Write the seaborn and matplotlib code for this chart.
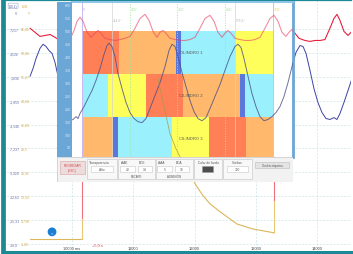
import matplotlib
matplotlib.use("Agg")
import matplotlib.pyplot as plt
from matplotlib.patches import Rectangle
from matplotlib.transforms import blended_transform_factory
import seaborn as sns

sns.set_style("white")
plt.rcParams['font.family'] = ['Liberation Sans', 'DejaVu Sans']

# ---- main trace (time in ms, value on the gold scale) ----
red_t = [9315, 9396, 9478, 9560, 9641, 9723, 9804, 9886, 9967,
         10033, 10082, 10130, 10179, 10245, 10310, 10375, 10424, 10473, 10538, 10620, 10701, 10783, 10864, 10946,
         11028, 11109, 11191, 11256, 11321, 11386, 11435, 11484, 11533, 11598, 11680, 11761, 11843, 11925,
         12006, 12088, 12169, 12251, 12316, 12381, 12447, 12495, 12544, 12593, 12658, 12740, 12822, 12903, 12985,
         13066, 13148, 13229, 13295, 13360, 13425, 13490, 13539, 13588, 13637, 13702, 13800, 13882, 13963,
         14045, 14126, 14208, 14273, 14322, 14371, 14436, 14502, 14567]
red_v = [66.7, 65.4, 64.1, 64.4, 64.7, 63.8, 62.8, 62.8, 63.1,
         66.0, 68.9, 70.2, 68.9, 65.4, 63.8, 65.1, 66.0, 65.1, 63.5, 63.1, 62.8, 63.1, 63.5, 64.1,
         66.7, 69.8, 71.1, 69.2, 65.7, 63.8, 65.4, 66.0, 65.1, 63.5, 63.1, 62.8, 62.8, 63.1,
         63.8, 66.7, 69.8, 70.8, 68.9, 65.4, 63.8, 65.1, 66.0, 65.1, 63.5, 63.1, 62.8, 62.8, 63.1,
         63.8, 66.7, 69.8, 70.8, 68.9, 65.4, 64.1, 65.4, 66.3, 65.1, 63.5, 62.8, 62.5, 62.8,
         62.8, 63.1, 66.7, 69.8, 71.1, 69.2, 65.7, 64.4, 65.7]

blue_t = [9315, 9364, 9413, 9478, 9527, 9576, 9625, 9674, 9723, 9772,
          9821, 9870, 9918, 9967, 10016, 10065, 10098, 10130, 10196, 10261,
          10326, 10391, 10457, 10522, 10571, 10603, 10652, 10701, 10750, 10816,
          10881, 10946, 11011, 11076, 11142, 11207, 11272, 11354, 11435, 11517,
          11582, 11631, 11680, 11729, 11794, 11859, 11925, 11990, 12055, 12120,
          12186, 12251, 12332, 12414, 12495, 12577, 12658, 12707, 12756, 12805,
          12871, 12936, 13001, 13066, 13132, 13197, 13262, 13327, 13392, 13458,
          13523, 13588, 13653, 13719, 13768, 13817, 13882, 13947, 14012, 14078,
          14143, 14208, 14273, 14322, 14371, 14436, 14502, 14567]
blue_v = [51.4, 53.9, 57.1, 60.3, 61.6, 60.9, 59.6, 58.7, 55.8, 51.4,
          45.9, 41.2, 38.3, 37.3, 37.7, 38.6, 38.0, 39.6, 41.8, 44.4,
          46.9, 50.1, 53.9, 58.4, 61.2, 61.9, 60.9, 57.7, 52.3, 47.5,
          43.1, 39.9, 38.0, 37.0, 36.7, 38.0, 41.2, 45.3, 49.4, 54.5,
          59.6, 61.6, 60.9, 57.7, 52.6, 48.2, 43.7, 40.2, 38.0, 37.3,
          38.3, 41.2, 45.0, 48.8, 53.3, 57.7, 60.9, 61.6, 60.6, 57.1,
          51.4, 45.9, 41.8, 38.6, 37.3, 37.7, 38.6, 39.9, 41.8, 45.0,
          49.4, 54.5, 59.0, 61.2, 60.9, 58.7, 53.3, 47.5, 43.1, 39.9,
          38.0, 37.7, 38.3, 37.7, 39.6, 43.1, 46.9, 50.7]

tan_flat_t = [9315, 10163]
tan_flat_v = [-0.25, -0.25]
tan_decay_t = [11403, 11435, 11517, 11598, 11696, 11794, 11925, 12039, 12137, 12251, 12414, 12691, 12952, 13295]
tan_decay_v = [50.7, 47.5, 40.5, 33.2, 28.4, 24.6, 20.1, 16.3, 13.5, 10.9, 8.4, 4.5, 2.9, 1.7]

# cursor marks: time, value where red turns into tan, bottom of tan part
cursor_t = [10163, 13295]
cursor_split = [6.1, 11.9]
cursor_low = [-0.25, 1.7]

knob_t, knob_v = 9674, 2.0

x_ticks = [10000, 11000, 12000, 13000, 14000]
x_labels = ["10000 ms", "11000", "12000", "13000", "14000"]
y_ticks = [66.45, 58.86, 51.27, 43.68, 36.09, 28.50, 20.91, 13.32, 5.73, -1.86]
y_labels_gold = ["66,45", "58,86", "51,27", "43,68", "36,09", "28,5", "20,91", "13,32", "5,738", "-1,85"]
y_labels_blue = ["7,217", "4,526", "1,836", "-1,855", "-4,546", "-7,237", "-9,928", "-12,62", "-15,31", "-18,0"]

# ---- cycle overlay (crank angle in degrees) ----
cylinders = ["CILINDRO 1", "CILINDRO 2", "CILINDRO 3"]
row_bottom = [333.3, 166.7, 0.0]
row_height = 166.7
phase_start = [[0, 140, 355, 374, 578],
               [0, 98, 240, 380, 595, 614],
               [0, 115, 134, 338, 480, 620]]
phase_end = [[140, 355, 374, 578, 720],
             [98, 240, 380, 595, 614, 720],
             [115, 134, 338, 480, 620, 720]]
phase_kind = [["exp", "esc", "cruce", "adm", "comp"],
              ["adm", "comp", "exp", "esc", "cruce", "adm"],
              ["esc", "cruce", "adm", "comp", "exp", "esc"]]
phase_colors = {"exp": "#ff8057", "esc": "#ffb86c", "cruce": "#5a78dc",
                "adm": "#9bf0fd", "comp": "#ffff5c"}
deg_marks = [0, 180, 360, 540, 720]
deg_labels = ["0°", "180°", "360°", "540°", "720°"]
deg_colors = ["#c9b9f2", "#a6e3a0", "#a6e3a0", "#a6e3a0", "#f6c35e"]
aux_marks = [114.6, 576.6]
aux_labels = ["114,6°", "576,6°"]
scale_ticks = [50, 100, 150, 200, 250, 300, 350, 400, 450, 500, 550, 600]

W, H = 353, 255
TEAL = "#1b8a94"


def box(x0, y0, x1, y1):
    return [x0 / W, 1 - y1 / H, (x1 - x0) / W, (y1 - y0) / H]


fig = plt.figure(figsize=(3.53, 2.55), dpi=100)
fig.patch.set_facecolor("white")

# ---------------- main chart ----------------
ax = fig.add_axes(box(2.5, 1, 351, 252.5), zorder=1)
sns.lineplot(x=red_t, y=red_v, ax=ax, color="#e5203d", lw=0.8, sort=False, estimator=None)
sns.lineplot(x=blue_t, y=blue_v, ax=ax, color="#3b44a6", lw=0.7, sort=False, estimator=None)
sns.lineplot(x=tan_flat_t, y=tan_flat_v, ax=ax, color="#d9b75a", lw=0.8, sort=False, estimator=None)
sns.lineplot(x=tan_decay_t, y=tan_decay_v, ax=ax, color="#d9b75a", lw=0.8, sort=False, estimator=None)
ax.vlines(cursor_t, cursor_split, [80, 80], color="#f07080", lw=0.8)
ax.vlines(cursor_t, cursor_low, cursor_split, color="#e8c874", lw=0.8)
ax.scatter([knob_t], [knob_v], s=40, color="#1a7fd4", zorder=5, edgecolor="none")
ax.text(knob_t, knob_v, "<", color="white", fontsize=3, ha="center", va="center", zorder=6)

ax.set_xlim(8866, 14551)
ax.set_ylim(-4.24, 75.66)
ax.set_xticks(x_ticks)
ax.set_xticklabels(x_labels)
ax.set_yticks(y_ticks)
ax.set_yticklabels(y_labels_blue, ha="left")
ax.tick_params(axis="x", length=0, pad=-4.3, labelsize=2.9, labelcolor="#4a4a4a")
ax.tick_params(axis="y", length=0, pad=-5.6, labelsize=2.5, labelcolor="#6b72aa")
ax.set_xlabel("")
ax.set_ylabel("")
ax.grid(True, color="#cde5e7", ls=(0, (3, 2)), lw=0.5)
ax.set_axisbelow(True)
for s in ["left", "top", "bottom"]:
    ax.spines[s].set_color(TEAL)
ax.spines["left"].set_linewidth(3.4)
ax.spines["top"].set_linewidth(1.6)
ax.spines["bottom"].set_linewidth(2.2)
ax.spines["right"].set_visible(False)

trans = blended_transform_factory(ax.transAxes, ax.transData)
for v, lab in zip(y_ticks, y_labels_gold):
    ax.text(0.053, v, lab, transform=trans, fontsize=2.5, color="#d6a944", va="center", ha="left")
ax.text(10330, -1.9, "+5,0 s", color="#e8394a", fontsize=2.9, va="center", ha="left")

# small legend in the corner
ax.text(0.018, 0.985, "(10,1)", transform=ax.transAxes, fontsize=2.3, color="#5560a0", va="top",
        bbox=dict(boxstyle="round,pad=0.2", fc="white", ec="#8890c0", lw=0.3))
ax.text(0.056, 0.985, "6,08", transform=ax.transAxes, fontsize=2.3, color="#d6a944", va="top")
ax.text(0.036, 0.955, "V", transform=ax.transAxes, fontsize=2.3, color="#5560a0", va="top")
ax.text(0.072, 0.955, "Y", transform=ax.transAxes, fontsize=2.3, color="#d6a944", va="top")

# ---------------- overlay window ----------------
ax_ov = fig.add_axes(box(72, 3, 293, 158), zorder=2)
ax_ov.set_facecolor("white")
for i, name in enumerate(cylinders):
    starts = phase_start[i]
    widths = [e - s for s, e in zip(phase_start[i], phase_end[i])]
    cols = [phase_colors[k] for k in phase_kind[i]]
    ax_ov.barh(row_bottom[i], widths, left=starts, height=row_height, align="edge",
               color=cols, edgecolor="none", zorder=1)
    ax_ov.text(410, row_bottom[i] + row_height / 2, name, fontsize=3, color="#555555",
               ha="center", va="center", zorder=6)
for d, lab, c in zip(deg_marks, deg_labels, deg_colors):
    ls = ":" if c == "#a6e3a0" else "-"
    ax_ov.axvline(d, color=c, lw=0.7, ls=ls, zorder=2)
    ax_ov.text(d + 3, 584, lab, fontsize=2.4, color=c, ha="left", va="center", zorder=6)
for d, lab in zip(aux_marks, aux_labels):
    ax_ov.axvline(d, color="#d4d4d4", lw=0.5, zorder=2)
    ax_ov.text(d + 3, 545, lab, fontsize=2.4, color="#b8b8b8", ha="left", va="center", zorder=6)

# traces seen through the window
ax_ov.plot(red_t, red_v, transform=ax.transData, color="#ea3f62", alpha=0.6, lw=0.8, zorder=3)
ax_ov.plot(blue_t, blue_v, transform=ax.transData, color="#4a4f86", alpha=0.8, lw=0.7, zorder=3)
ax_ov.plot(tan_decay_t, tan_decay_v, transform=ax.transData, color="#a09a4c", alpha=0.8, lw=0.6, zorder=3)

ax_ov.set_xlim(-37.7, 795.4)
ax_ov.set_ylim(11.2, 611.6)
ax_ov.set_xticks([])
ax_ov.set_yticks([])
ax_ov.spines["left"].set_visible(False)
ax_ov.spines["bottom"].set_visible(False)
ax_ov.spines["top"].set_color("#8fc3e8")
ax_ov.spines["top"].set_linewidth(1.4)
ax_ov.spines["right"].set_color("#6aa6d6")
ax_ov.spines["right"].set_linewidth(2.0)

# scale bar on the left of the window
ax_bar = fig.add_axes(box(57, 3, 72, 158), zorder=3)
ax_bar.set_facecolor("#6aa6d6")
ax_bar.set_ylim(11.2, 611.6)
ax_bar.set_xticks([])
ax_bar.set_yticks(scale_ticks)
ax_bar.set_yticklabels([str(v) for v in scale_ticks])
ax_bar.tick_params(axis="y", length=0, pad=-9.7, labelsize=2.6, labelcolor="#dcebf7")
for s in ax_bar.spines.values():
    s.set_visible(False)

# ---------------- control panel ----------------
ax_p = fig.add_axes(box(57, 158, 293, 183), zorder=4)
ax_p.set_xlim(0, 236)
ax_p.set_ylim(25, 0)
ax_p.axis("off")
ax_p.add_patch(Rectangle((0, 0), 236, 25, fc="#f2f2f2", ec="#c6c6c6", lw=0.5))


def rect(x0, y0, x1, y1, fc, ec, lw=0.4):
    ax_p.add_patch(Rectangle((x0, y0), x1 - x0, y1 - y0, fc=fc, ec=ec, lw=lw))


def label(x, y, s, size=2.3, color="#555555", ha="left"):
    ax_p.text(x, y, s, fontsize=size, color=color, ha=ha, va="center")


rect(3, 4, 28, 17, "#ecdcdc", "#d9a3a3")
label(15.5, 10.5, "REGRESAR\n(ESC)", color="#e0474c", ha="center")
for x0, x1 in [(30, 60), (61, 98), (99, 136), (137, 165), (166, 195)]:
    rect(x0, 2, x1, 22, "#f8f8f8", "#c4c4c4")
label(32, 5, "Transparencia")
rect(34, 9, 56, 15, "white", "#c8c8c8")
label(45, 12, "Alto", ha="center")
label(64, 5, "AAE")
label(82, 5, "BCE")
rect(63, 9, 78, 15, "white", "#c8c8c8")
rect(81, 9, 95, 15, "white", "#c8c8c8")
label(70.5, 12, "40", ha="center")
label(88, 12, "14", ha="center")
label(79.5, 19.5, "ESCAPE", ha="center", size=2.1)
label(101, 5, "AAA")
label(119, 5, "BCA")
rect(100, 9, 115, 15, "white", "#c8c8c8")
rect(118, 9, 132, 15, "white", "#c8c8c8")
label(107.5, 12, "5", ha="center")
label(125, 12, "38", ha="center")
label(117, 19.5, "ADMISIÓN", ha="center", size=2.1)
label(151, 5, "Color de fondo", ha="center")
rect(145, 9, 156, 15, "#4d4d4d", "#9a9a9a")
label(180.5, 5, "Vueltas", ha="center")
rect(170, 9, 191, 15, "white", "#c8c8c8")
label(180.5, 12, "720", ha="center")
rect(198, 5, 232, 11, "#e4e4e4", "#bdbdbd")
label(215, 8, "Ocultar etiquetas", ha="center", size=2.0)

fig.savefig("out.png", dpi=100)
